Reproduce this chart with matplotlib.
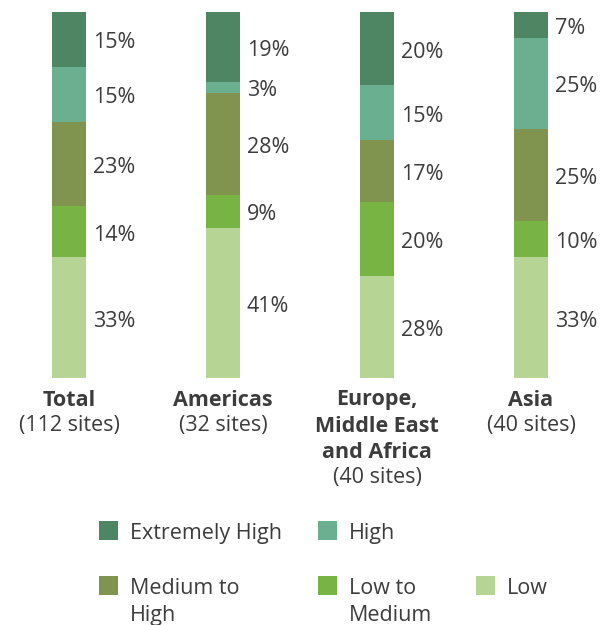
import matplotlib.pyplot as plt
from matplotlib.patches import Rectangle

# share of sites by risk level, bottom (Low) to top (Extremely High)
regions = ["Total", "Americas", "Europe,\nMiddle East\nand Africa", "Asia"]
site_counts = ["(112 sites)", "(32 sites)", "(40 sites)", "(40 sites)"]
levels = ["Low", "Low to\nMedium", "Medium to\nHigh", "High", "Extremely High"]
colors = ["#b6d594", "#78b443", "#80944f", "#6baf91", "#4e8562"]
low = [33, 41, 28, 33]
low_to_medium = [14, 9, 20, 10]
medium_to_high = [23, 28, 17, 25]
high = [15, 3, 15, 25]
extremely_high = [15, 19, 20, 7]
series = [low, low_to_medium, medium_to_high, high, extremely_high]

W, H = 605, 625
TXT = "#3c3c3c"
FS = 15.5
plt.rcParams['font.family'] = ['Open Sans', 'DejaVu Sans']

fig = plt.figure(figsize=(W / 100, H / 100), dpi=100)
# axes: y 0..100 spans pixel rows 378..12, bar i centred at 69 + 154*i px
ax = fig.add_axes([0, (H - 378) / H, 1, 366 / H])
ax.set_xlim(-69 / 154, (W - 69) / 154)
ax.set_ylim(0, 100)
ax.axis("off")
ppd = 366 / 100  # pixels per data unit

x = range(len(regions))
bottom = [0] * len(regions)
for vals, col in zip(series, colors):
    ax.bar(x, vals, bottom=bottom, width=0.22, color=col, linewidth=0)
    for i, v in enumerate(vals):
        ax.text(i + 0.155, bottom[i] + v / 2 - 9 / ppd, f"{v}%", ha="left",
                va="baseline", fontsize=FS, color=TXT)
    bottom = [b + v for b, v in zip(bottom, vals)]

# category labels under bars
for i, (name, n) in enumerate(zip(regions, site_counts)):
    lines = name.split("\n")
    for k, line in enumerate(lines):
        y = (378 - (400 + 26 * k)) / ppd
        ax.text(i, y, line, ha="center", va="center", fontsize=FS,
                fontweight="bold", color=TXT, clip_on=False)
    y = (378 - (426 + 26 * (len(lines) - 1))) / ppd
    ax.text(i, y, n, ha="center", va="center", fontsize=FS, color=TXT,
            clip_on=False)


def fx(px):
    return px / W


def fy(py):
    return 1 - py / H


# legend laid out as a grid: top row high levels, bottom row the rest
slots = {
    "Extremely High": (99, 521),
    "High": (318, 521),
    "Medium to\nHigh": (99, 576),
    "Low to\nMedium": (318, 576),
    "Low": (476, 576),
}
for lab, col in zip(levels, colors):
    sx, sy = slots[lab]
    fig.patches.append(Rectangle((fx(sx), fy(sy + 19)), 19 / W, 19 / H,
                                 transform=fig.transFigure, color=col, lw=0))
    for k, line in enumerate(lab.split("\n")):
        fig.text(fx(sx + 31), fy(sy + 18 + 27 * k), line, ha="left",
                 va="baseline", fontsize=FS, color=TXT)

fig.savefig("out.png", dpi=100)
